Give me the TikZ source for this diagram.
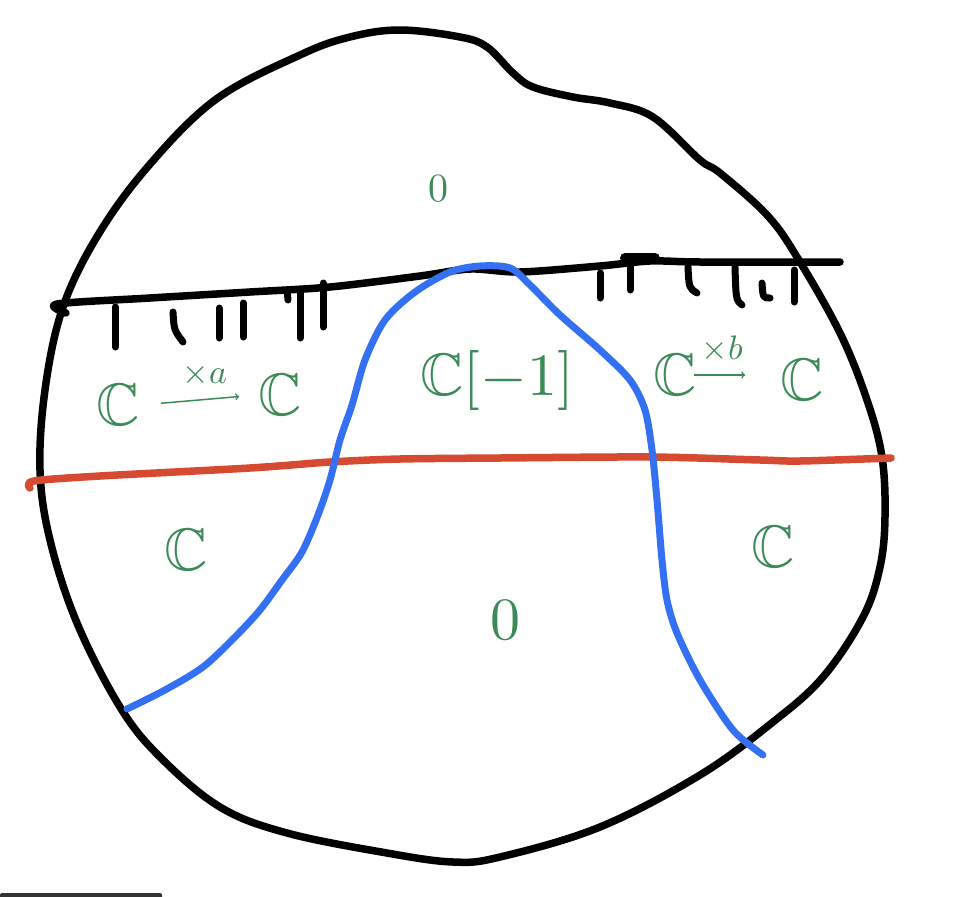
\documentclass[tikz,border=0pt]{standalone}
\usepackage{amssymb}
\definecolor{inkgreen}{HTML}{3B8A57}
\definecolor{inkblue}{HTML}{3471F2}
\definecolor{inkred}{HTML}{D64A31}
\begin{document}
\begin{tikzpicture}[x=1pt,y=-1pt]

    \tikzset{ink/.style={line width=7.5pt,line cap=round,line join=round},
             lab/.style={text=inkgreen,inner sep=0pt,scale=6},
             zero/.style={text=inkgreen,inner sep=0pt,scale=4},
             bigzero/.style={text=inkgreen,inner sep=0pt,scale=6},
             small/.style={text=inkgreen,inner sep=0pt,scale=3.4},
             map/.style={->,draw=inkgreen,line width=1.5pt}}

    \useasboundingbox (0,0) rectangle (954,897);

    % outline of the space
    \draw[ink] plot[smooth cycle,tension=0.6] coordinates {
        (400,30) (460,37) (487,47) (513,73) (533,87) (573,97) (610,103)
        (653,117) (700,160) (720,173) (767,215) (797,257) (840,333)
        (867,400) (882,457) (885,517) (880,567) (863,617) (823,677)
        (773,722) (700,775) (600,827) (500,857)
        (453,862) (387,853) (287,833) (220,807) (160,757) (120,707)
        (77,623) (50,540) (40,470) (45,390) (62,310) (95,240) (145,170)
        (215,100) (300,55) (350,37)};

    % black line with hatching
    \draw[ink] plot[smooth,tension=0.5] coordinates {
        (66,313) (57,304) (150,298) (250,292) (330,287) (420,276) (470,269)
        (520,272) (600,266) (650,261) (700,262) (840,262)};
    \foreach \x/\a/\b in {115/307/347, 219/308/338, 243/303/337, 300/290/338,
                          323/283/327, 600/273/298, 630/262/290, 794/270/302}
        \draw[ink,line width=7pt] (\x,\a) -- (\x,\b);
    \draw[ink,line width=7pt] (287,290) -- (288,300);
    \draw[ink,line width=10pt] (625,258) -- (655,258);
    \draw[ink,line width=7pt] (173,312) .. controls (174,330) .. (183,342);
    \draw[ink,line width=7pt] (688,267) .. controls (689,288) .. (697,293);
    \draw[ink,line width=7pt] (735,267) .. controls (736,300) .. (742,305);
    \draw[ink,line width=7pt] (762,283) .. controls (763,298) .. (770,298);

    % red line
    \draw[ink,draw=inkred] plot[smooth,tension=0.5] coordinates {
        (30,488) (34,481) (100,476) (250,468) (330,462) (400,459) (500,458)
        (650,457) (760,460) (800,461) (891,458)};

    % blue curve
    \draw[ink,line width=7pt,draw=inkblue] plot[smooth,tension=0.5] coordinates {
        (127,709) (165,690) (203,667) (235,637) (260,610) (282,580) (302,552)
        (318,515) (330,480) (340,440) (352,405) (365,360) (385,320) (415,292)
        (450,272) (480,266) (510,268) (530,285) (560,315) (600,350) (630,380)
        (645,410) (652,450) (657,500) (662,560) (667,600) (677,633) (700,680)
        (733,730) (763,755)};

    % labels
    \node[zero] (z1) at (438,189) {$0$};
    \node[lab] (c1) at (118,405) {$\mathbb{C}$};
    \node[lab] (c2) at (280,395) {$\mathbb{C}$};
    \node[lab] (c3) at (497,380) {$\mathbb{C}[-1]$};
    \node[lab] (c4) at (675,375) {$\mathbb{C}$};
    \node[lab] (c5) at (802,380) {$\mathbb{C}$};
    \node[lab] (c6) at (186,550) {$\mathbb{C}$};
    \node[bigzero] (z2) at (505,620) {$0$};
    \node[lab] (c7) at (773,547) {$\mathbb{C}$};

    \draw[map,shorten <=20pt,shorten >=18pt] (c1.east) -- (c2.west)
        node[small,pos=0.55,above=3pt] {$\times a$};
    \draw[map,shorten <=-4pt,shorten >=34pt] (c4.east) -- (c4.east -| c5.west)
        node[small,pos=0.3,above=3pt] {$\times b$};

    % bar at the lower edge
    \fill[black!80,rounded corners=2pt] (0,893) rectangle (162,905);

\end{tikzpicture}
\end{document}
